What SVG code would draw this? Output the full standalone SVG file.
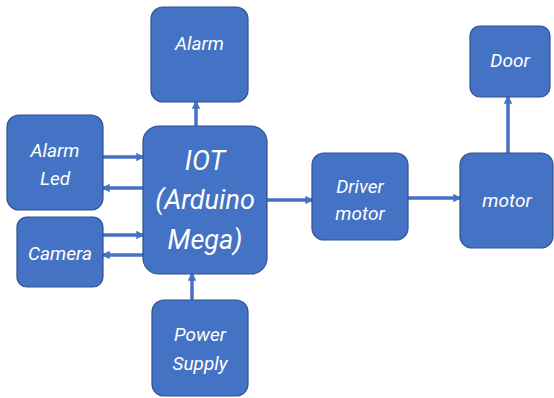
<svg xmlns="http://www.w3.org/2000/svg" width="554" height="398" viewBox="0 0 554 398">
<defs>
<style>
.box{fill:#4472C4;stroke:#2F528F;stroke-width:1.2}
.t{fill:#fff;font-family:Roboto,"Liberation Sans",sans-serif;font-style:italic;font-size:19px;text-anchor:middle;dominant-baseline:central}
.big{font-size:27px}
.c{stroke:#4472C4;stroke-width:3.5;fill:none;marker-end:url(#ah)}
</style>
<marker id="ah" viewBox="0 0 10 10" refX="8" refY="5" markerWidth="2.4" markerHeight="2.4" orient="auto" markerUnits="strokeWidth">
<path d="M0,0 L10,5 L0,10 z" fill="#4472C4"/>
</marker>
</defs>
<rect width="554" height="398" fill="#fff"/>
<g id="connectors">
<line class="c" x1="196" y1="126" x2="196" y2="102"/>
<line class="c" x1="103" y1="157" x2="143" y2="157"/>
<line class="c" x1="143" y1="188" x2="103" y2="188"/>
<line class="c" x1="103" y1="235" x2="143" y2="235"/>
<line class="c" x1="143" y1="255" x2="103" y2="255"/>
<line class="c" x1="267" y1="200" x2="312" y2="200"/>
<line class="c" x1="408" y1="198" x2="460" y2="198"/>
<line class="c" x1="192" y1="300" x2="192" y2="274"/>
<line class="c" x1="508" y1="153" x2="508" y2="97"/>
</g>
<g id="alarm"><rect class="box" x="151" y="7" width="97" height="95" rx="12"/><text class="t" x="199.5" y="43">Alarm</text></g>
<g id="iot"><rect class="box" x="143" y="126" width="124" height="148" rx="16"/>
<text class="t big" x="205" y="161">IOT</text><text class="t big" x="205" y="200">(Arduino</text><text class="t big" x="205" y="240">Mega)</text></g>
<g id="alarmled"><rect class="box" x="7" y="115" width="96" height="95" rx="12"/><text class="t" x="55" y="150">Alarm</text><text class="t" x="55" y="178">Led</text></g>
<g id="camera"><rect class="box" x="17" y="217" width="86" height="70" rx="10"/><text class="t" x="60" y="253">Camera</text></g>
<g id="driver"><rect class="box" x="312" y="153" width="96" height="87" rx="12"/><text class="t" x="360" y="186">Driver</text><text class="t" x="360" y="213">motor</text></g>
<g id="motor"><rect class="box" x="460" y="153" width="93" height="95" rx="12"/><text class="t" x="507" y="200">motor</text></g>
<g id="door"><rect class="box" x="470" y="26" width="80" height="71" rx="10"/><text class="t" x="510" y="60">Door</text></g>
<g id="power"><rect class="box" x="152" y="300" width="96" height="96" rx="12"/><text class="t" x="200" y="334">Power</text><text class="t" x="200" y="363">Supply</text></g>
</svg>
